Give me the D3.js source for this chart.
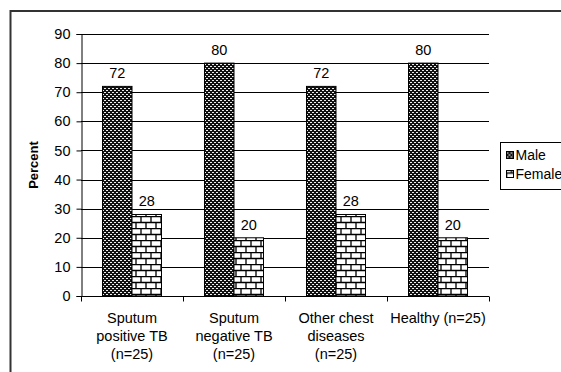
<!DOCTYPE html>
<html>
<head>
<meta charset="utf-8">
<script src="https://cdn.jsdelivr.net/npm/d3@7"></script>
<style>
  body { margin: 0; background: #fff; }
  text { font-family: "Liberation Sans", Arial, sans-serif; }
</style>
</head>
<body>
<script>
// Data
const categories = [
  ['Sputum', 'positive TB', '(n=25)'],
  ['Sputum', 'negative TB', '(n=25)'],
  ['Other chest', 'diseases', '(n=25)'],
  ['Healthy (n=25)']
]
const seriesNames = ['Male', 'Female']
const maleValues = [72, 80, 72, 80]
const femaleValues = [28, 20, 28, 20]
const yTicks = [0, 10, 20, 30, 40, 50, 60, 70, 80, 90]

const width = 561
const height = 372
const margin = { left: 81, right: 72, top: 34, bottom: 76 }

const svg = d3.select('body').append('svg')
  .attr('width', width)
  .attr('height', height)

// patterns
const defs = svg.append('defs')
const male = defs.append('pattern')
  .attr('id', 'male')
  .attr('patternUnits', 'userSpaceOnUse')
  .attr('width', 4).attr('height', 4)
male.append('rect').attr('width', 4).attr('height', 4).attr('fill', '#111')
male.append('rect').attr('x', 0).attr('y', 0).attr('width', 2).attr('height', 1).attr('fill', '#eee')
male.append('rect').attr('x', 2).attr('y', 2).attr('width', 2).attr('height', 1).attr('fill', '#eee')

const brick = defs.append('pattern')
  .attr('id', 'female')
  .attr('patternUnits', 'userSpaceOnUse')
  .attr('width', 10).attr('height', 12)
brick.append('rect').attr('width', 10).attr('height', 12).attr('fill', '#fff')
brick.append('path')
  .attr('d', 'M0,0.5H10M0,6.5H10M1,0V6M6,6V12')
  .attr('stroke', '#000').attr('stroke-width', 1.3)

// outer frame
svg.append('rect')
  .attr('x', 10.5).attr('y', 11)
  .attr('width', 560).attr('height', 380)
  .attr('fill', 'none')
  .attr('stroke', '#333')
  .attr('stroke-width', 2)

const x = d3.scaleBand()
  .domain(d3.range(categories.length))
  .range([margin.left, width - margin.right])

const y = d3.scaleLinear()
  .domain([0, 90])
  .range([height - margin.bottom, margin.top])

// gridlines
svg.append('g')
  .selectAll('line')
  .data(yTicks.slice(1))
  .join('line')
  .attr('x1', margin.left).attr('x2', width - margin.right)
  .attr('y1', d => Math.round(y(d)) + 0.5).attr('y2', d => Math.round(y(d)) + 0.5)
  .attr('stroke', '#000')

// y axis
const yAxis = svg.append('g')
  .attr('transform', `translate(${margin.left + 0.5},0)`)
  .call(d3.axisLeft(y).tickValues(yTicks).tickSize(5).tickPadding(6))
yAxis.select('.domain').attr('stroke', '#000')
yAxis.selectAll('.tick line').attr('stroke', '#000')
yAxis.selectAll('.tick text')
  .attr('font-size', 14.5)
  .attr('fill', '#000')
  .style('font-family', '"Liberation Sans", Arial, sans-serif')

// x axis
const xAxisG = svg.append('g')
  .attr('transform', `translate(0,${Math.round(y(0)) + 0.5})`)
xAxisG.append('line')
  .attr('x1', margin.left).attr('x2', width - margin.right)
  .attr('stroke', '#000')
xAxisG.selectAll('line.tick')
  .data(d3.range(categories.length + 1))
  .join('line')
  .attr('class', 'tick')
  .attr('x1', d => Math.round(margin.left + d * x.step()) + 0.5)
  .attr('x2', d => Math.round(margin.left + d * x.step()) + 0.5)
  .attr('y1', 0).attr('y2', 5)
  .attr('stroke', '#000')

// category labels
categories.forEach((lines, i) => {
  const t = svg.append('text')
    .attr('x', x(i) + x.bandwidth() / 2)
    .attr('y', 323)
    .attr('text-anchor', 'middle')
    .attr('font-size', 14.5)
    .attr('fill', '#000')
  lines.forEach((l, j) => {
    t.append('tspan')
      .attr('x', x(i) + x.bandwidth() / 2)
      .attr('dy', j === 0 ? 0 : 18)
      .text(l)
  })
})

// bars
const barW = 29.5
const series = [
  { name: 'Male', values: maleValues, fill: 'url(#male)', off: -barW },
  { name: 'Female', values: femaleValues, fill: 'url(#female)', off: 0 }
]
series.forEach(s => {
  const g = svg.append('g')
  g.selectAll('rect')
    .data(s.values)
    .join('rect')
    .attr('x', (d, i) => x(i) + x.bandwidth() / 2 + s.off)
    .attr('y', d => y(d))
    .attr('width', barW)
    .attr('height', d => y(0) - y(d))
    .attr('fill', s.fill)
    .attr('stroke', '#000')
    .attr('stroke-width', 1)
  g.selectAll('text')
    .data(s.values)
    .join('text')
    .attr('x', (d, i) => x(i) + x.bandwidth() / 2 + s.off + barW / 2)
    .attr('y', d => y(d) - 8)
    .attr('text-anchor', 'middle')
    .attr('font-size', 14.5)
    .attr('fill', '#000')
    .text(d => d)
})

// y title
svg.append('text')
  .attr('transform', 'translate(38,165) rotate(-90)')
  .attr('text-anchor', 'middle')
  .attr('font-size', 13)
  .attr('font-weight', 'bold')
  .attr('fill', '#000')
  .text('Percent')

// legend
const lg = svg.append('g').attr('transform', 'translate(500.5,142.5)')
lg.append('rect')
  .attr('width', 80).attr('height', 47)
  .attr('fill', '#fff').attr('stroke', '#000')
seriesNames.forEach((n, i) => {
  lg.append('rect')
    .attr('x', 6).attr('y', 9 + i * 19)
    .attr('width', 7).attr('height', 7)
    .attr('fill', i === 0 ? 'url(#male)' : 'url(#female)')
    .attr('stroke', '#000')
  lg.append('text')
    .attr('x', 15).attr('y', 17.5 + i * 19)
    .attr('font-size', 14)
    .attr('fill', '#000')
    .text(n)
})
</script>
</body>
</html>
